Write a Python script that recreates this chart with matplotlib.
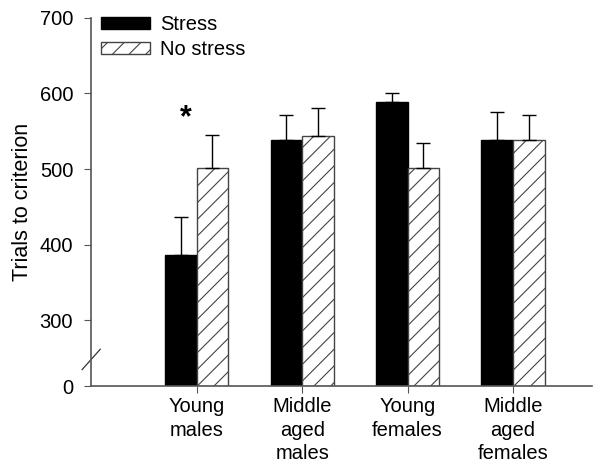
import numpy as np
import matplotlib.pyplot as plt
from matplotlib.lines import Line2D

groups = ['Young\nmales', 'Middle\naged\nmales', 'Young\nfemales', 'Middle\naged\nfemales']
stress = [387, 539, 589, 539]
stress_err = [50, 32, 12, 37]
no_stress = [501, 544, 501, 539]
no_stress_err = [44, 37, 34, 32]
yticks = [0, 300, 400, 500, 600, 700]

# broken y axis: compress 0..300 into a short stretch
Z0 = 213.0


def fwd(v):
    v = np.asarray(v, dtype=float)
    return np.where(v < 300, Z0 + v * (300 - Z0) / 300, v)


def inv(v):
    v = np.asarray(v, dtype=float)
    return np.where(v < 300, (v - Z0) * 300 / (300 - Z0), v)


plt.rcParams['font.family'] = ['Liberation Sans', 'DejaVu Sans']
plt.rcParams['hatch.linewidth'] = 0.8

fig = plt.figure(figsize=(6, 4.68), dpi=100)
ax = fig.add_axes([0.152, 0.175, 0.835, 0.787])
ax.set_yscale('function', functions=(fwd, inv))

x = np.arange(len(groups))
w = 0.3
spine = '#555555'
ax.bar(x - w / 2, stress, w, color='black', edgecolor='black', label='Stress',
       yerr=[np.zeros(4), stress_err], capsize=5,
       error_kw=dict(ecolor='black', elinewidth=1, capthick=1))
ax.bar(x + w / 2, no_stress, w, color='white', edgecolor='#444444', hatch='//',
       linewidth=1, label='No stress',
       yerr=[np.zeros(4), no_stress_err], capsize=5,
       error_kw=dict(ecolor='black', elinewidth=1, capthick=1))

ax.set_ylim(0, 700)
ax.set_xlim(-1.0, 3.75)
ax.set_yticks(yticks)
ax.set_xticks(x)
ax.set_xticklabels(groups, fontsize=14.5, linespacing=1.3, va='top')
ax.tick_params(axis='y', labelsize=14.5, direction='out', length=5, color=spine, pad=8)
ax.tick_params(axis='x', direction='out', length=5, color=spine, pad=3)
ax.set_ylabel('Trials to criterion', fontsize=15.5, labelpad=5)

for s in ['top', 'right']:
    ax.spines[s].set_visible(False)
for s in ['left', 'bottom']:
    ax.spines[s].set_color(spine)
    ax.spines[s].set_linewidth(1.2)

# break mark on the y axis
ax.add_line(Line2D([-0.018, 0.018], [0.045, 0.10], transform=ax.transAxes,
                   color='#333333', lw=0.9, clip_on=False))

ax.text(x[0] - 0.1, 567, '*', fontsize=22, fontweight='bold', ha='center', va='center')

ax.legend(loc='upper left', bbox_to_anchor=(-0.008, 1.045), frameon=False, fontsize=14.5,
          handlelength=2.4, handleheight=0.5, labelspacing=0.3, handletextpad=0.5,
          borderaxespad=0.3)

fig.savefig('out.png', dpi=100)
